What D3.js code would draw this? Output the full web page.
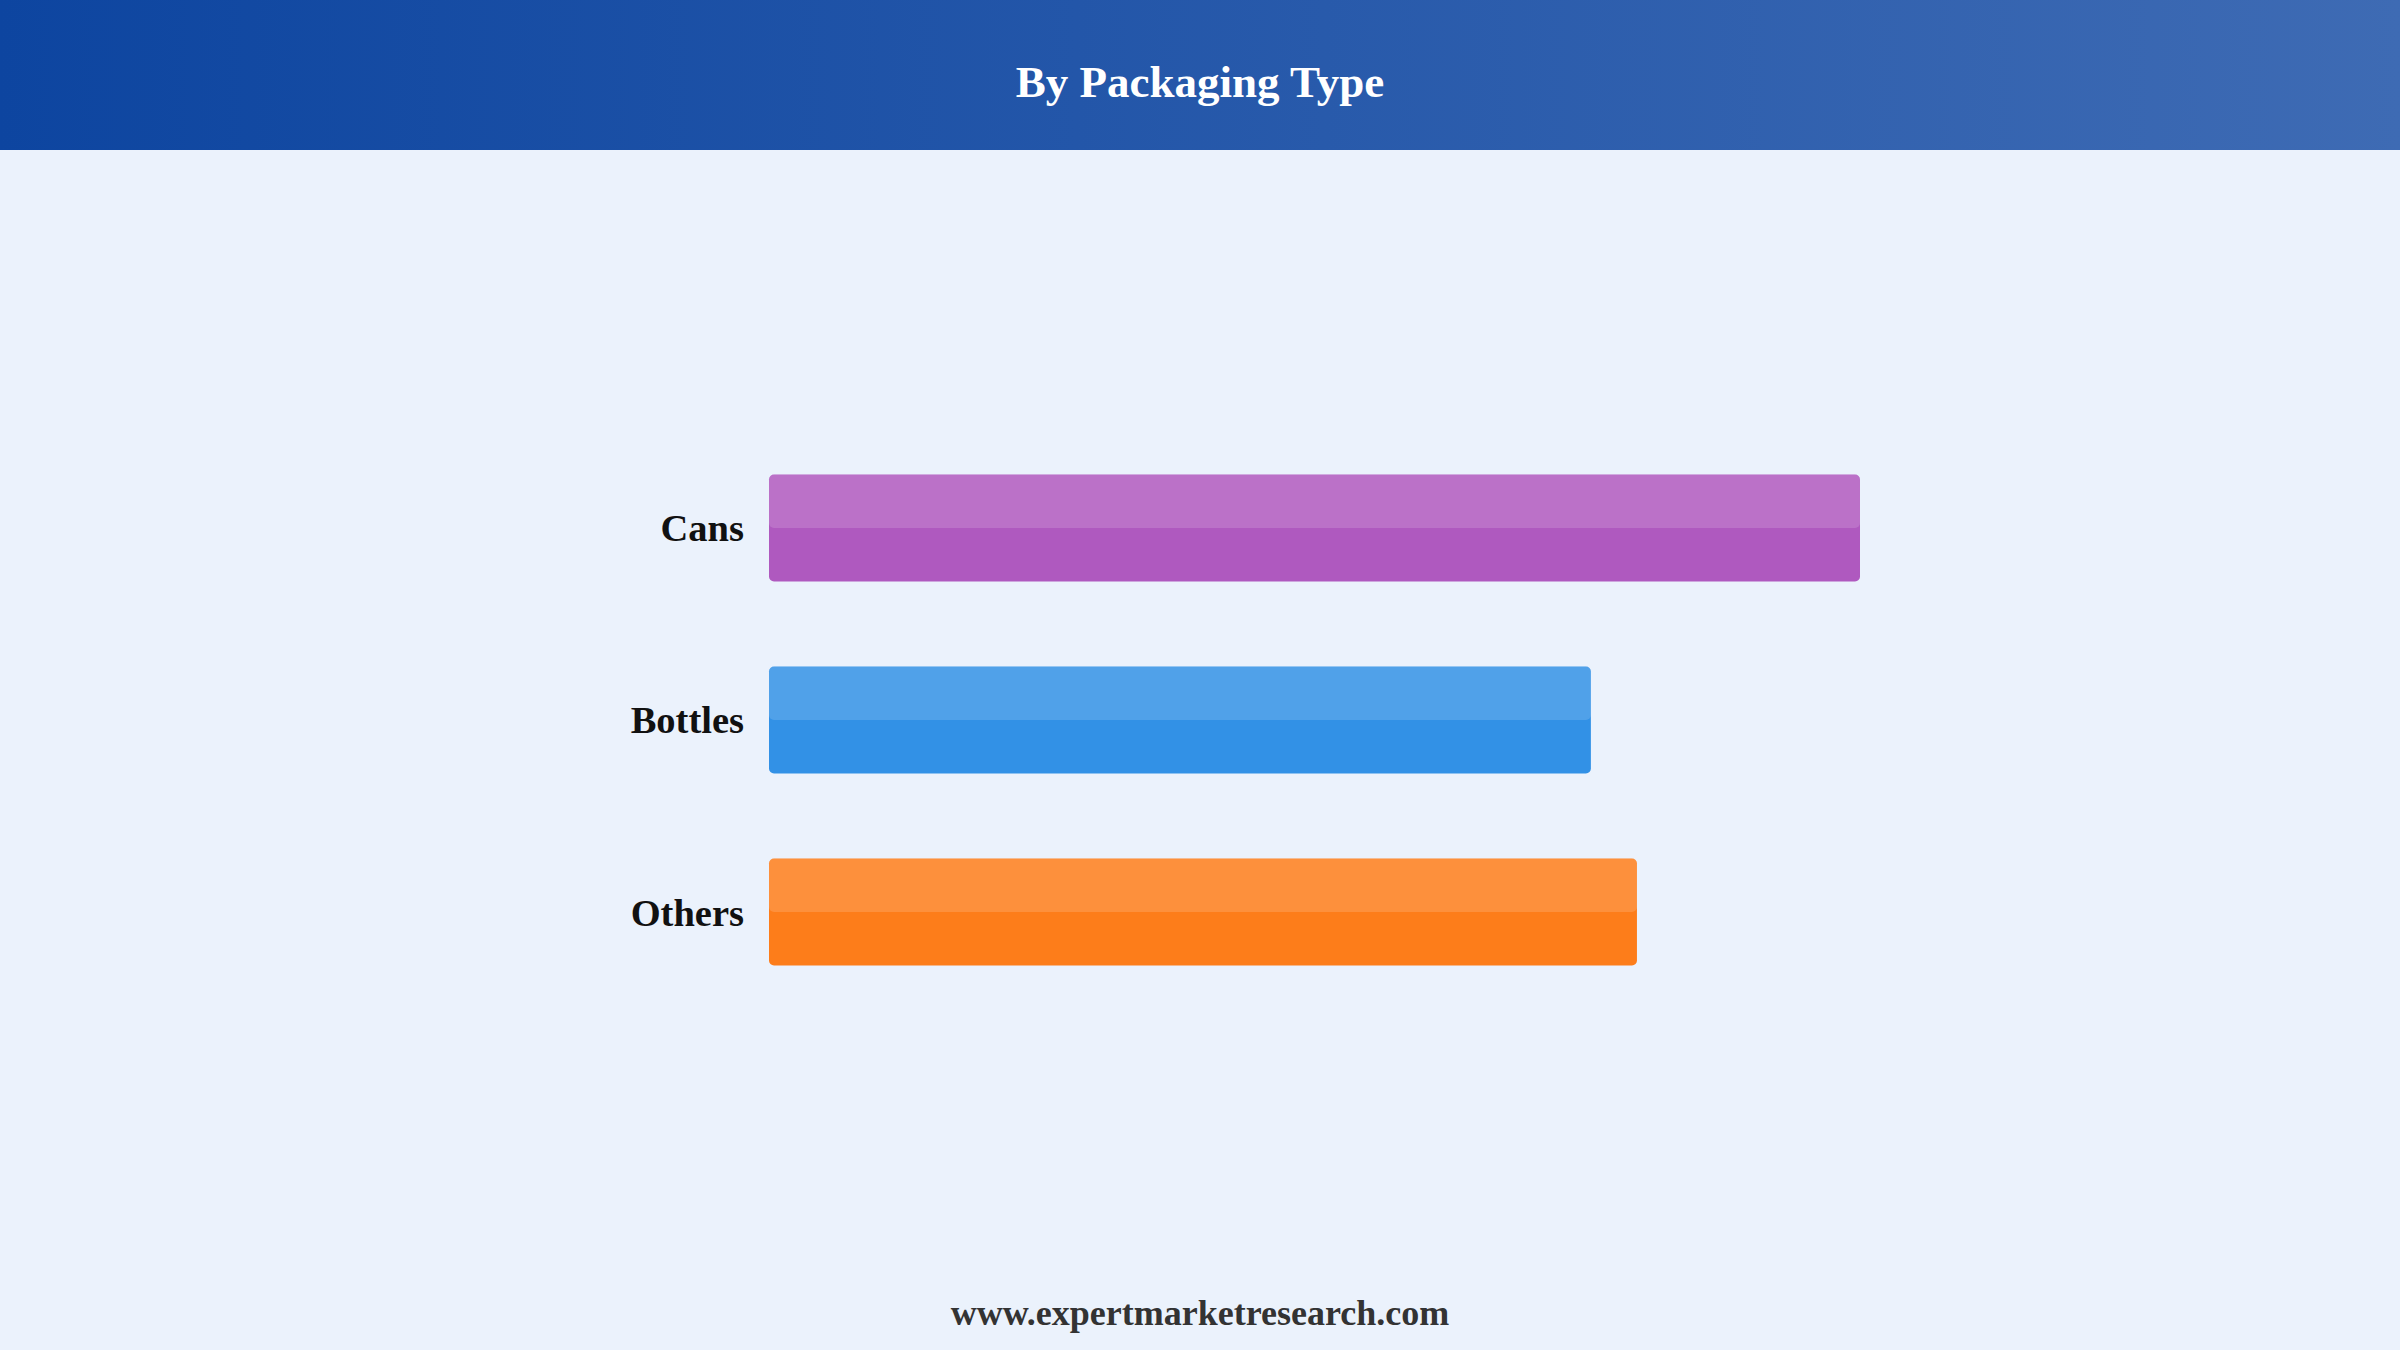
<!DOCTYPE html>
<html>
<head>
<meta charset="utf-8">
<script src="https://cdn.jsdelivr.net/npm/d3@7"></script>
<style>
    html, body { margin: 0; padding: 0; background: #ebf2fc; }
    svg { display: block; }
</style>
</head>
<body>
<svg></svg>
<script>
const width = 2400, height = 1350;

const categories = ["Cans", "Bottles", "Others"];
const values = [45, 33.9, 35.8];
const colors = ["#af59bf", "#3291e6", "#fd7d1a"];
const titleText = "By Packaging Type";
const footerText = "www.expertmarketresearch.com";

const svg = d3.select('body').select('svg')
    .attr('width', width)
    .attr('height', height);

svg.append('rect')
    .attr('width', width)
    .attr('height', height)
    .attr('fill', '#ebf2fc');

// header band
const grad = svg.append('defs').append('linearGradient')
    .attr('id', 'head')
    .attr('x1', '0%').attr('x2', '100%');
grad.append('stop').attr('offset', '0%').attr('stop-color', '#0d45a0');
grad.append('stop').attr('offset', '100%').attr('stop-color', '#3e6bb4');

svg.append('rect')
    .attr('width', width)
    .attr('height', 150)
    .attr('fill', 'url(#head)');

svg.append('text')
    .attr('x', width / 2)
    .attr('y', 97)
    .attr('text-anchor', 'middle')
    .style('font-family', '"Liberation Serif", "Times New Roman", serif')
    .style('font-weight', 'bold')
    .style('font-size', '45px')
    .style('fill', '#ffffff')
    .text(titleText);

// scales
const x = d3.scaleLinear()
    .domain([0, d3.max(values)])
    .range([769, 1860]);

const y = d3.scaleBand()
    .domain(categories)
    .range([432, 1008])
    .paddingInner(0.443)
    .paddingOuter(0.221);

const rows = categories.map(function (c, i) {
    return {name: c, value: values[i], fill: colors[i]};
});

const bars = svg.selectAll('.bar')
    .data(rows)
    .enter().append('g')
    .attr('class', 'bar');

bars.append('rect')
    .attr('x', x(0))
    .attr('y', function (d) { return y(d.name) })
    .attr('width', function (d) { return x(d.value) - x(0) })
    .attr('height', y.bandwidth())
    .attr('rx', 5)
    .style('fill', function (d) { return d.fill });

// lighter top half
bars.append('rect')
    .attr('x', x(0))
    .attr('y', function (d) { return y(d.name) })
    .attr('width', function (d) { return x(d.value) - x(0) })
    .attr('height', y.bandwidth() / 2)
    .attr('rx', 5)
    .style('fill', '#ffffff')
    .style('fill-opacity', 0.15);

// category labels
svg.selectAll('.label')
    .data(rows)
    .enter().append('text')
    .attr('class', 'label')
    .attr('x', 744)
    .attr('y', function (d) { return y(d.name) + y.bandwidth() / 2 })
    .attr('dy', '0.35em')
    .attr('text-anchor', 'end')
    .style('font-family', '"Liberation Serif", "Times New Roman", serif')
    .style('font-weight', 'bold')
    .style('font-size', '38.5px')
    .style('fill', '#111111')
    .text(function (d) { return d.name });

svg.append('text')
    .attr('x', width / 2)
    .attr('y', 1325)
    .attr('text-anchor', 'middle')
    .style('font-family', '"Liberation Serif", "Times New Roman", serif')
    .style('font-weight', 'bold')
    .style('font-size', '36px')
    .style('fill', '#333333')
    .text(footerText);
</script>
</body>
</html>
